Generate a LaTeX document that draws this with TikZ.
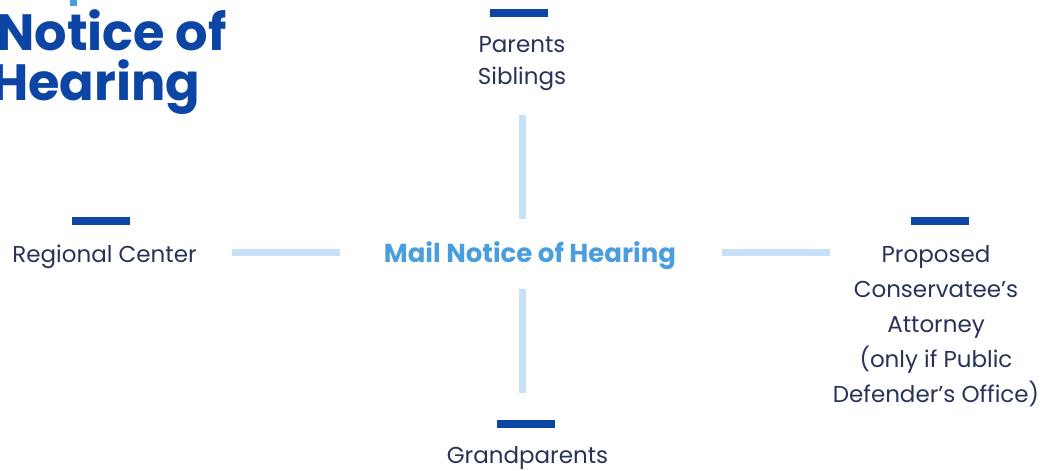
\documentclass[tikz,border=0pt]{standalone}
\usepackage{fontspec}
\setmainfont{Poppins}
\definecolor{navy}{HTML}{283358}
\definecolor{barblue}{HTML}{0D45A5}
\definecolor{lineblue}{HTML}{C6E0F5}
\definecolor{midblue}{HTML}{4A9EDC}
\begin{document}
\begin{tikzpicture}[x=1pt,y=-1pt,
  bar/.style={fill=barblue,draw=none},
  link/.style={draw=lineblue,line width=7pt},
  lbl/.style={text=navy,font=\fontsize{23}{31.6}\selectfont,align=center,inner sep=0pt},
  rlbl/.style={text=navy,font=\fontsize{23}{35}\selectfont,align=center,inner sep=0pt},
  title/.style={text=barblue,font=\bfseries\fontsize{51}{50}\selectfont,inner sep=0pt}
]
\path[use as bounding box, clip] (0,0) rectangle (1044,471);
\fill[white] (0,0) rectangle (1044,471);
% title
\node[title,anchor=base east] (t1) at (227,50) {Notice of};
\node[title,anchor=base west] (t2) at ([xshift=-5pt,yshift=-50pt]t1.base west) {Hearing};
\fill[midblue] (70,0) rectangle (77,6);
% centre
\node[text=midblue,font=\bfseries\fontsize{26}{28}\selectfont,inner sep=0pt,anchor=base] (c) at (530,262) {Mail Notice of Hearing};
% coordinates for connectors
\coordinate (tA) at (522.5,115);
\coordinate (tB) at (522.5,219);
\coordinate (bA) at (522.5,289);
\coordinate (bB) at (522.5,393);
\coordinate (lA) at (232,252);
\coordinate (lB) at (340,252);
\coordinate (rA) at (722,252.5);
\coordinate (rB) at (830,252.5);
\draw[link] (tA) -- (tB);
\draw[link] (bA) -- (bB);
\draw[link] (lA) -- (lB);
\draw[link] (rA) -- (rB);
% bars
\fill[bar] (490,9) rectangle (548,16.5);
\fill[bar] (72,217) rectangle (130,224.5);
\fill[bar] (911,217) rectangle (969,224.5);
\fill[bar] (497,420) rectangle (555,427.5);
% labels (base anchor = last line's baseline)
\node[lbl,anchor=base] (p) at (522,84.5) {Parents\\Siblings};
\node[lbl,anchor=base] (r) at (104.5,262) {Regional Center};
\node[lbl,anchor=base] (g) at (527.5,463) {Grandparents};
\node[rlbl,anchor=base] (a) at (936,402) {Proposed\\Conservatee’s\\Attorney\\(only if Public\\Defender’s Office)};
\end{tikzpicture}
\end{document}
